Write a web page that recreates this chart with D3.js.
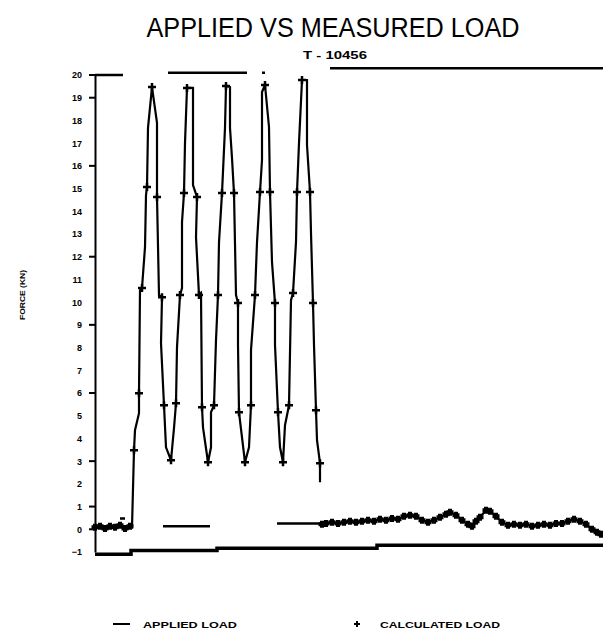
<!DOCTYPE html>
<html>
<head>
<meta charset="utf-8">
<script src="https://cdn.jsdelivr.net/npm/d3@7"></script>
<style>
  html, body { margin: 0; padding: 0; background: #fff; }
  svg { display: block; }
  text { fill: #000; font-family: "Liberation Sans", "DejaVu Sans", sans-serif; }
</style>
</head>
<body>
<svg id="chart" width="603" height="635"></svg>
<script>
// ---- data -------------------------------------------------------------
const titleText = "APPLIED VS MEASURED LOAD";
const subtitleText = "T - 10456";
const yLabelText = "FORCE (KN)";
const legendApplied = "APPLIED LOAD";
const legendCalc = "CALCULATED LOAD";

// force axis labels and the positions that carry a tick mark
const yTickLabels = [20, 19, 18, 17, 16, 15, 14, 13, 12, 11, 10, 9, 8, 7, 6, 5, 4, 3, 2, 1, 0, -1];
const yTickMarks = [20, 19, 16, 12, 9, 6, 3, 1, 0];

// measured load trace (time, force); null breaks the trace
const loadTime = [
  0, 2.5, 5, 7.5, 10, 12.5, 15, 17.5,
  18.5, 19.5, 20, 22, 22, 22.5, 23.5, 25, 25.5, 26, 26.5, 28.5,
  31, 31, 32, 33.5, 33, 34.5, 35.5, 38,
  39.5, 40.5, 41, 42.5, 43.5, 43.5, 44.5, 45, 46,
  49, 49, 51, 50.5, 52, 53, 53.5, 54, 56.5,
  58, 58, 59.5, 60.5, 61.5, 62, 63.5, 65, 65.5,
  67.5, 67.5, 68.5, 69.5, 70.5, 71.5, 71.5, 72, 75,
  77, 78, 78, 80, 81, 82.5, 83.5, 83.5, 85,
  87, 87.5, 88.5, 90, 90, 91.5, 92.5, 94,
  95, 97, 98, 99, 100.5, 101, 102, 103.5,
  106, 106, 107.5, 108, 109, 109.5, 110.5, 111, 112.5, 112.5,
  113,
  113.5, 115.5, 118.5, 121.5, 124.5, 127.5, 130.5, 133.5, 136.5, 139.5,
  142.5, 145.5, 148.5, 151.5, 154.5, 157.5, 160.5, 163.5, 166.5, 169.5,
  172.5, 175.5, 177.5, 180.5, 183.5, 186.5, 188.5, 190.5, 192.5, 195.5,
  197.5, 200.5, 203.5, 206.5, 209.5, 212.5, 215.5, 218.5, 221.5, 224.5,
  227.5, 230.5, 233.5, 236.5, 239.5, 242.5, 245.5, 248.5, 251, 253, 254
];
const loadValue = [
  0.09, 0.13, 0.04, 0.13, 0.09, 0.18, 0.04, 0.13,
  0.09, 3.48, 4.36, 5.11, 5.99, 10.53, 10.62, 12.42, 14.71, 15.07, 17.67, 19.47,
  17.89, 14.63, 10.31, 10.22, 8.19, 5.46, 3.61, 3.04,
  4.45, 5.55, 8.02, 10.31, 10.62, 13.52, 14.80, 17.0, 19.43,
  19.43, 15.15, 14.63, 12.86, 10.31, 10.40, 5.37, 4.49, 2.95,
  3.61, 5.15, 5.46, 8.33, 10.31, 12.64, 14.80, 17.67, 19.52,
  19.47, 17.67, 16.34, 14.80, 10.31, 9.96, 8.11, 5.15, 2.95,
  3.61, 5.46, 7.89, 10.31, 12.64, 14.85, 16.26, 19.25, 19.56,
  17.71, 14.85, 11.76, 9.96, 8.11, 5.15, 3.61, 2.95,
  4.58, 5.46, 10.09, 10.40, 12.64, 14.85, 17.0, 19.78,
  19.78, 16.92, 14.85, 13.04, 9.96, 8.11, 5.24, 3.92, 2.91, 2.07,
  null,
  0.22, 0.26, 0.31, 0.26, 0.31, 0.35, 0.31, 0.35, 0.40, 0.35,
  0.44, 0.40, 0.48, 0.44, 0.57, 0.62, 0.57, 0.40, 0.31, 0.40,
  0.53, 0.66, 0.75, 0.62, 0.40, 0.22, 0.13, 0.35, 0.53, 0.84,
  0.79, 0.57, 0.31, 0.18, 0.22, 0.18, 0.22, 0.13, 0.18, 0.22,
  0.18, 0.26, 0.26, 0.35, 0.44, 0.35, 0.22, 0.0, -0.13, -0.22, -0.13
];

// calculated load points (time, force)
const calcTime = [
  0, 2.5, 5, 7.5, 10, 12.5, 15, 17.5,
  19.5, 22, 23.5, 26, 28.5, 31, 33.5, 34.5, 38,
  40.5, 42.5, 44.5, 46, 51, 52, 53.5, 56.5,
  59.5, 61.5, 63.5, 65.5, 69.5, 71.5, 72, 75,
  78, 80, 82.5, 85, 87.5, 90, 91.5, 94,
  97, 99, 101, 103.5, 107.5, 109, 110.5, 112.5,
  113.5, 115.5, 118.5, 121.5, 124.5, 127.5, 130.5, 133.5, 136.5, 139.5,
  142.5, 145.5, 148.5, 151.5, 154.5, 157.5, 160.5, 163.5, 166.5, 169.5,
  172.5, 175.5, 177.5, 180.5, 183.5, 186.5, 188.5, 190.5, 192.5, 195.5,
  197.5, 200.5, 203.5, 206.5, 209.5, 212.5, 215.5, 218.5, 221.5, 224.5,
  227.5, 230.5, 233.5, 236.5, 239.5, 242.5, 245.5, 248.5, 251, 253
];
const calcValue = [
  0.09, 0.13, 0.04, 0.13, 0.09, 0.18, 0.04, 0.13,
  3.48, 5.99, 10.62, 15.07, 19.47, 14.63, 10.22, 5.46, 3.04,
  5.55, 10.31, 14.80, 19.43, 14.63, 10.31, 5.37, 2.95,
  5.46, 10.31, 14.80, 19.52, 14.80, 9.96, 5.15, 2.95,
  5.46, 10.31, 14.85, 19.56, 14.85, 9.96, 5.15, 2.95,
  5.46, 10.40, 14.85, 19.78, 14.85, 9.96, 5.24, 2.91,
  0.22, 0.26, 0.31, 0.26, 0.31, 0.35, 0.31, 0.35, 0.40, 0.35,
  0.44, 0.40, 0.48, 0.44, 0.57, 0.62, 0.57, 0.40, 0.31, 0.40,
  0.53, 0.66, 0.75, 0.62, 0.40, 0.22, 0.13, 0.35, 0.53, 0.84,
  0.79, 0.57, 0.31, 0.18, 0.22, 0.18, 0.22, 0.13, 0.18, 0.22,
  0.18, 0.26, 0.26, 0.35, 0.44, 0.35, 0.22, 0.0, -0.13, -0.22
];

// applied load, drawn as held levels; null separates the levels
const appliedTime  = [0, 14, null, 12.5, 15, null, 34, 57.5, null, 36.5, 76, null, 83.5, 85, null, 91, 115, null, 117.5, 254];
const appliedValue = [20.0, 20.0, null, 0.48, 0.48, null, 0.13, 0.13, null, 20.1, 20.1, null, 20.1, 20.1, null, 0.26, 0.26, null, 20.3, 20.3];

// time baseline of the plot (time, force)
const baseTime  = [0, 18, 61, 141, 254];
const baseValue = [-1.10, -0.93, -0.84, -0.70, -0.70];

// ---- drawing ----------------------------------------------------------
const svg = d3.select("#chart");
svg.append("rect").attr("width", 603).attr("height", 635).attr("fill", "#fff");

const x = d3.scaleLinear().domain([0, 254]).range([95, 603]);
const y = d3.scaleLinear().domain([-1, 20]).range([552, 75]);

// titles
svg.append("text")
  .attr("x", 333).attr("y", 37)
  .attr("text-anchor", "middle")
  .attr("font-size", 27)
  .attr("textLength", 373).attr("lengthAdjust", "spacingAndGlyphs")
  .text(titleText);

svg.append("text")
  .attr("x", 335).attr("y", 59)
  .attr("text-anchor", "middle")
  .attr("font-size", 11).attr("font-weight", "bold")
  .attr("textLength", 64).attr("lengthAdjust", "spacingAndGlyphs")
  .text(subtitleText);

// y axis: labels on every unit, marks on a subset
const yAxis = d3.axisLeft(y).tickValues(yTickLabels).tickSize(0).tickPadding(13).tickFormat(d3.format("d"));
const gy = svg.append("g").attr("transform", "translate(95,0)").call(yAxis);
gy.select(".domain").attr("stroke", "#000").attr("stroke-width", 2);
gy.selectAll(".tick text")
  .attr("font-size", 9).attr("font-weight", "bold")
  .attr("font-family", "'DejaVu Sans', sans-serif");

gy.selectAll("line.mark")
  .data(yTickMarks)
  .join("line")
  .attr("class", "mark")
  .attr("x1", -6).attr("x2", 0)
  .attr("y1", d => y(d)).attr("y2", d => y(d))
  .attr("stroke", "#000").attr("stroke-width", 2);

svg.append("text")
  .attr("transform", "translate(25,295) rotate(-90)")
  .attr("text-anchor", "middle")
  .attr("font-size", 8).attr("font-weight", "bold")
  .attr("textLength", 50).attr("lengthAdjust", "spacingAndGlyphs")
  .text(yLabelText);

// baseline
const baseLine = d3.line()
  .x((d, i) => x(baseTime[i]))
  .y((d, i) => y(baseValue[i]))
  .curve(d3.curveStepAfter);
svg.append("path")
  .attr("d", baseLine(baseTime))
  .attr("fill", "none").attr("stroke", "#000").attr("stroke-width", 3.5);

// applied load levels
const appliedLine = d3.line()
  .defined((d, i) => appliedTime[i] !== null)
  .x((d, i) => x(appliedTime[i]))
  .y((d, i) => y(appliedValue[i]));
svg.append("path")
  .attr("d", appliedLine(appliedTime))
  .attr("fill", "none").attr("stroke", "#000").attr("stroke-width", 2.5);

// measured load trace
const loadLine = d3.line()
  .defined((d, i) => loadValue[i] !== null)
  .x((d, i) => x(loadTime[i]))
  .y((d, i) => y(loadValue[i]));
svg.append("path")
  .attr("d", loadLine(loadTime))
  .attr("fill", "none").attr("stroke", "#000")
  .attr("stroke-width", 2.2).attr("stroke-linejoin", "miter");

// calculated load crosses; the dense low-load crosses merge into a heavy band
const plus = s => `M${-s},0H${s}M0,${-s}V${s}`;
svg.append("g").selectAll("path")
  .data(calcTime)
  .join("path")
  .attr("transform", (d, i) => `translate(${x(d)},${y(calcValue[i])})`)
  .attr("d", (d, i) => calcValue[i] > 1.5 ? plus(4) : plus(3.5))
  .attr("fill", "none").attr("stroke", "#000")
  .attr("stroke-width", (d, i) => calcValue[i] > 1.5 ? 2.5 : 4);

// legend
const legend = svg.append("g");
legend.append("line")
  .attr("x1", 113).attr("x2", 130).attr("y1", 624).attr("y2", 624)
  .attr("stroke", "#000").attr("stroke-width", 2);
legend.append("text")
  .attr("x", 143).attr("y", 628)
  .attr("font-size", 9).attr("font-weight", "bold")
  .attr("textLength", 94).attr("lengthAdjust", "spacingAndGlyphs")
  .text(legendApplied);
legend.append("path")
  .attr("transform", "translate(357,624)")
  .attr("d", plus(3))
  .attr("fill", "none").attr("stroke", "#000").attr("stroke-width", 2);
legend.append("text")
  .attr("x", 380).attr("y", 628)
  .attr("font-size", 9).attr("font-weight", "bold")
  .attr("textLength", 120).attr("lengthAdjust", "spacingAndGlyphs")
  .text(legendCalc);
</script>
</body>
</html>
